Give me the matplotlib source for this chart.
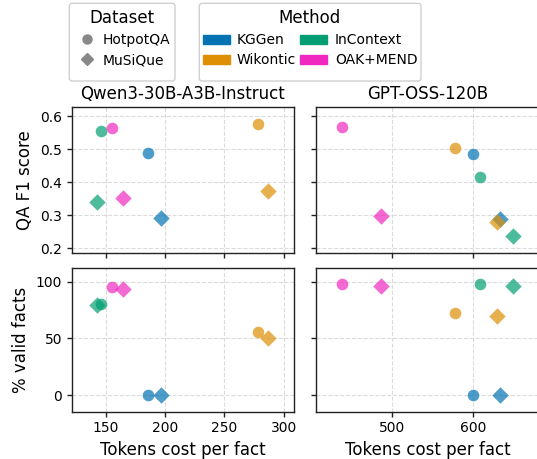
import matplotlib
matplotlib.use("Agg")
import matplotlib.pyplot as plt
from matplotlib.lines import Line2D
from matplotlib.patches import Patch, FancyBboxPatch
from matplotlib.transforms import IdentityTransform
from matplotlib.ticker import MultipleLocator

methods = ["KGGen", "Wikontic", "InContext", "OAK+MEND"]
colors = ["#0173B2", "#DE8F05", "#029E73", "#F028C0"]
datasets = ["HotpotQA", "MuSiQue"]
models = ["Qwen3-30B-A3B-Instruct", "GPT-OSS-120B"]

# tokens cost per fact [model][dataset][method]
qwen_cost_hotpot = [186, 278, 146, 155]
qwen_cost_musique = [197, 287, 143, 165]
gpt_cost_hotpot = [600, 578, 609, 438]
gpt_cost_musique = [633, 630, 650, 487]

# QA F1 score
qwen_f1_hotpot = [0.488, 0.577, 0.556, 0.564]
qwen_f1_musique = [0.292, 0.375, 0.341, 0.351]
gpt_f1_hotpot = [0.485, 0.504, 0.417, 0.568]
gpt_f1_musique = [0.290, 0.280, 0.237, 0.298]

# % valid facts
qwen_valid_hotpot = [0, 55.6, 80, 95]
qwen_valid_musique = [0, 50.5, 79.5, 94]
gpt_valid_hotpot = [0, 72, 97.7, 97.7]
gpt_valid_musique = [0, 69.7, 96.2, 96.2]

cost = [[qwen_cost_hotpot, qwen_cost_musique], [gpt_cost_hotpot, gpt_cost_musique]]
f1 = [[qwen_f1_hotpot, qwen_f1_musique], [gpt_f1_hotpot, gpt_f1_musique]]
valid = [[qwen_valid_hotpot, qwen_valid_musique], [gpt_valid_hotpot, gpt_valid_musique]]
markers = ["o", "D"]

W, H = 537, 459
fig = plt.figure(figsize=(W / 100, H / 100), dpi=100)

def box(x0, y0, x1, y1):
    return [x0 / W, 1 - y1 / H, (x1 - x0) / W, (y1 - y0) / H]

ax00 = fig.add_axes(box(71.7, 107, 294, 253))
ax01 = fig.add_axes(box(316, 107, 539, 253), sharey=ax00)
ax10 = fig.add_axes(box(71.7, 267.7, 294, 411.7), sharex=ax00)
ax11 = fig.add_axes(box(316, 267.7, 539, 411.7), sharex=ax01, sharey=ax10)
axes = [[ax00, ax01], [ax10, ax11]]

for col in range(2):
    for row, metric in enumerate([f1, valid]):
        ax = axes[row][col]
        for d in range(2):
            for m in range(4):
                ax.scatter(cost[col][d][m], metric[col][d][m], marker=markers[d],
                           s=70, color=colors[m], alpha=0.7, linewidths=0, zorder=3)
        ax.margins(0.15)
        ax.grid(True, linestyle="--", color="#cccccc", linewidth=0.8, alpha=0.7)
        ax.set_axisbelow(True)
        ax.tick_params(labelsize=10, width=1.0, color="#222222")
        for sp in ax.spines.values():
            sp.set_color("#222222")
            sp.set_linewidth(1.0)

ax00.set_title(models[0], fontsize=12)
ax01.set_title(models[1], fontsize=12)
ax00.set_ylabel("QA F1 score", fontsize=12)
ax10.set_ylabel("% valid facts", fontsize=12)
ax10.set_xlabel("Tokens cost per fact", fontsize=12)
ax11.set_xlabel("Tokens cost per fact", fontsize=12)
ax00.yaxis.set_major_locator(MultipleLocator(0.1))
ax10.yaxis.set_major_locator(MultipleLocator(50))
ax00.xaxis.set_major_locator(MultipleLocator(50))
ax01.xaxis.set_major_locator(MultipleLocator(100))
for ax in [ax00, ax01]:
    ax.tick_params(labelbottom=False)
for ax in [ax01, ax11]:
    ax.tick_params(labelleft=False)

# legend frames (drawn manually in pixel coordinates)
for (x0, y0, x1, y1) in [(69.3, 3.3, 175, 81), (199.3, 3.3, 421, 81)]:
    fr = FancyBboxPatch((x0, H - y1), x1 - x0, y1 - y0,
                        boxstyle="round,pad=0,rounding_size=2.8",
                        transform=IdentityTransform(), facecolor="white",
                        edgecolor="#d0d0d0", linewidth=1.0, zorder=4)
    fig.add_artist(fr)

ds_handles = [Line2D([], [], marker=markers[i], color="#888888", linestyle="none",
                     markersize=6.5) for i in range(2)]
leg1 = fig.legend(ds_handles, datasets, title="Dataset", loc="upper center",
                  bbox_to_anchor=(122 / W, 1 - 3.3 / H), borderaxespad=0, frameon=False,
                  fontsize=10, title_fontsize=12, handlelength=1.85,
                  handletextpad=0.2, labelspacing=0.45)
m_handles = [Patch(color=c) for c in colors]
leg2 = fig.legend(m_handles, methods, title="Method", loc="upper center",
                  bbox_to_anchor=(310 / W, 1 - 3.3 / H), borderaxespad=0, ncol=2,
                  frameon=False, fontsize=10, title_fontsize=12, handlelength=1.95,
                  handleheight=0.65, columnspacing=0.3, labelspacing=0.45,
                  handletextpad=0.53)
leg1.set_zorder(5)
leg2.set_zorder(5)

fig.savefig("out.png", dpi=100)
